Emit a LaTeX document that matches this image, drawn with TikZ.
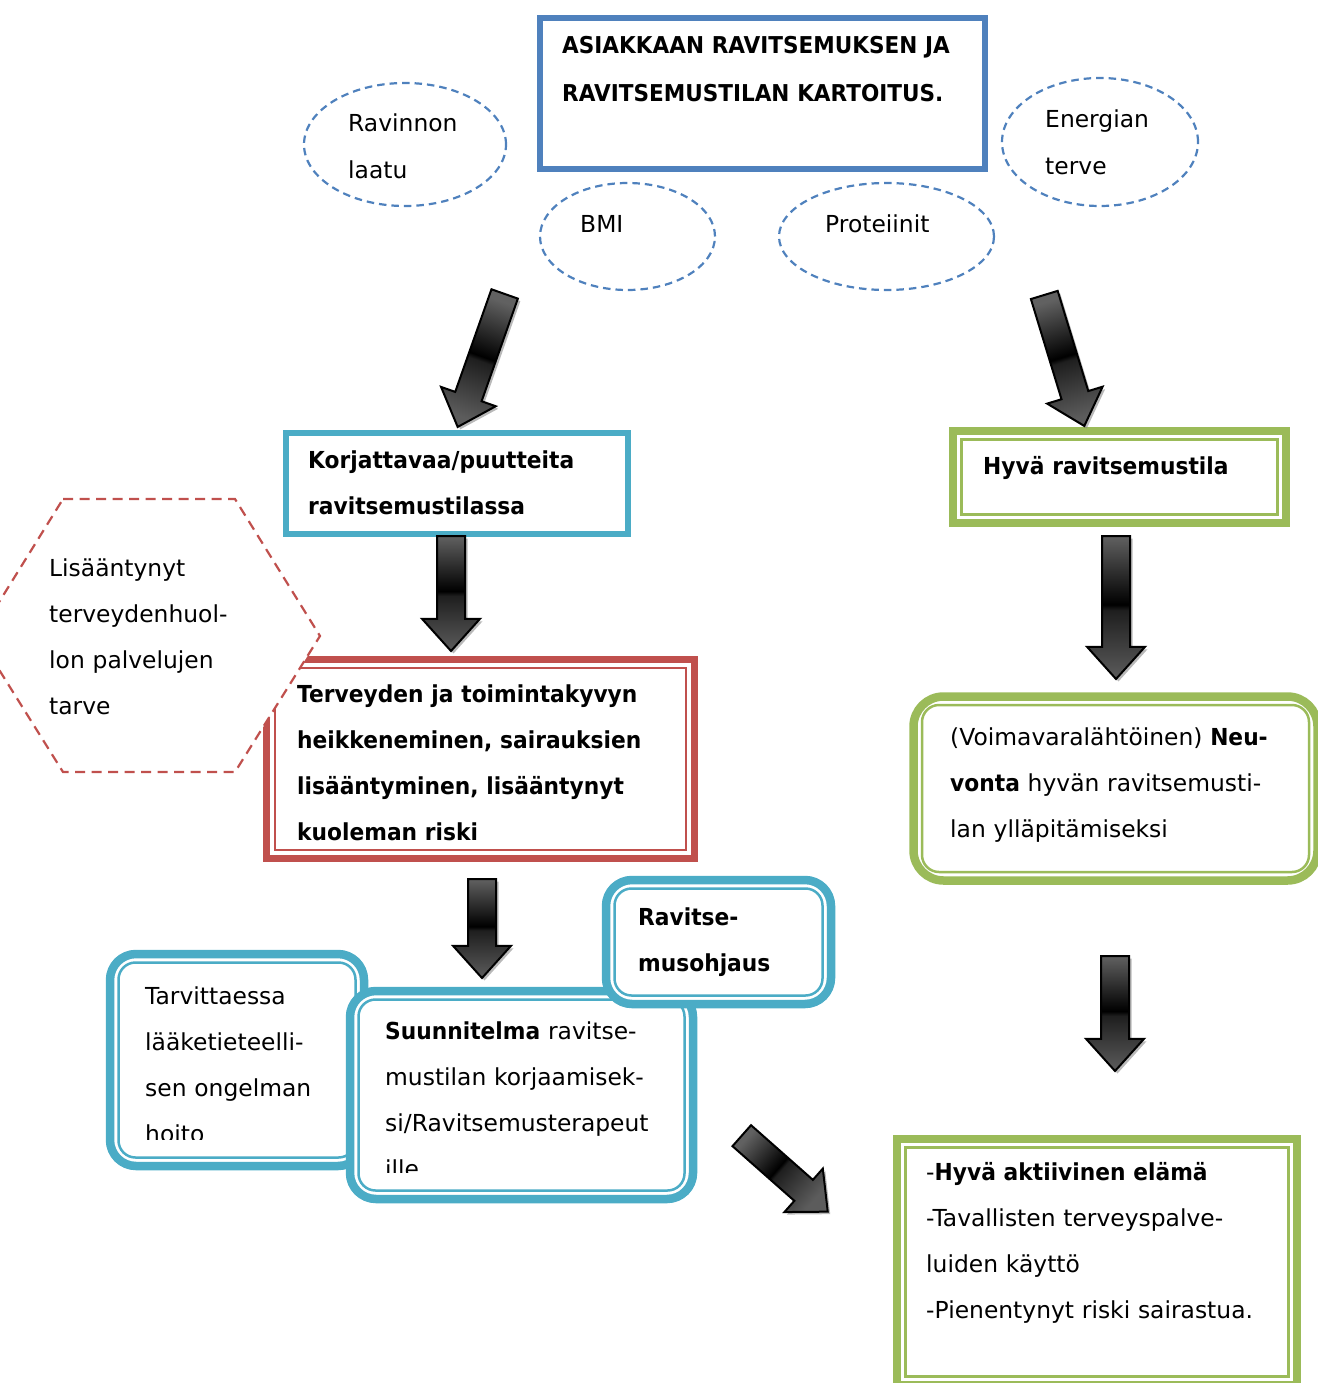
\documentclass[tikz,border=0pt]{standalone}
\usepackage{fontspec}
\setmainfont{DejaVu Sans}[BoldFeatures={FakeStretch=0.93}]
\usetikzlibrary{shapes.geometric,shapes.arrows,shadows,calc}

\definecolor{kblue}{HTML}{4F81BD}
\definecolor{kcyan}{HTML}{4BACC6}
\definecolor{kred}{HTML}{C0504D}
\definecolor{kgreen}{HTML}{9BBB59}
\pgfdeclareverticalshading{metal}{100bp}{color(0bp)=(black!62); color(25bp)=(black!62);
    color(49bp)=(black); color(51bp)=(black!88); color(75bp)=(black!64); color(100bp)=(black!64)}

\begin{document}
\begin{tikzpicture}
    [x=1pt,y=-1pt,
     txt/.style={anchor=base west,inner sep=0pt,text width=400pt,align=left,
                 font=\fontsize{23.4}{46.3}\selectfont},
     btxt/.style={txt,font=\fontsize{23.4}{46.3}\selectfont\bfseries},
     bubble/.style={ellipse,draw=kblue,line width=2.2pt,dash pattern=on 7.5pt off 5pt,inner sep=0pt},
     hexa/.style={draw=kred,fill=white,line width=2.2pt,dash pattern=on 10pt off 6.5pt},
     innerline/.style={path picture={\draw[line width=2.5pt,#1]
         ([shift={(8.5pt,-8.5pt)}]path picture bounding box.north west) rectangle
         ([shift={(-8.5pt,8.5pt)}]path picture bounding box.south east);}},
     sqbox/.style={rectangle,draw=#1,fill=white,line width=6.5pt,inner sep=0pt},
     dblbox/.style={rectangle,draw=#1,fill=white,line width=8pt,inner sep=0pt,innerline=#1},
     rndbox/.style={rectangle,draw=#1,fill=white,line width=8.5pt,rounded corners=26pt,
                    inner sep=0pt,innerline={#1,rounded corners=17pt}},
     blockarrow/.style={single arrow,draw=black,line width=2pt,inner xsep=0pt,inner ysep=13pt,
                        single arrow head extend=15pt,single arrow tip angle=84,
                        shade,shading=metal,
                        drop shadow={opacity=.55,shadow xshift=2.5pt,shadow yshift=-2.5pt}}]
    \useasboundingbox (0,0) rectangle (1317,1383);

    % Kartoitus
    \node[sqbox=kblue,minimum width=445pt,minimum height=151pt] (n0) at (762.5,93.5) {};
    \node[btxt,font=\fontsize{23.2}{48}\selectfont\bfseries] (n0-txt) at (562,53.5)
        {ASIAKKAAN RAVITSEMUKSEN JA\\RAVITSEMUSTILAN KARTOITUS.};

    \node[bubble,minimum width=202pt,minimum height=123pt] (e0) at (405,144.5) {};
    \node[txt] (e0-txt) at (348,132) {Ravinnon\\laatu};
    \node[bubble,minimum width=175pt,minimum height=107pt] (e1) at (627.5,236.5) {};
    \node[txt] (e1-txt) at (580,232) {BMI};
    \node[bubble,minimum width=215pt,minimum height=107pt] (e2) at (886.5,236.5) {};
    \node[txt] (e2-txt) at (825,232) {Proteiinit};
    \node[bubble,minimum width=196pt,minimum height=128pt] (e3) at (1100,142) {};
    \node[txt] (e3-txt) at (1045,128) {Energian\\terve};

    % vasen haara
    \node[sqbox=kcyan,minimum width=342pt,minimum height=101pt] (n1-0) at (457,483.5) {};
    \node[btxt] (n1-0-txt) at (308,468) {Korjattavaa/puutteita\\ravitsemustilassa};

    \node[dblbox=kred,line width=7pt,minimum width=428pt,minimum height=199pt] (n2-0) at (480.5,759) {};
    \begin{scope}
        \clip (n2-0.north west) rectangle ([yshift=21.5pt]n2-0.south east);
        \node[btxt] (n2-0-txt) at (297,702)
            {Terveyden ja toimintakyvyn\\heikkeneminen, sairauksien\\lisääntyminen, lisääntynyt\\kuoleman riski};
    \end{scope}

    \coordinate (h0) at (63,499);
    \coordinate (h1) at (235,499);
    \coordinate (h2) at (320,636);
    \coordinate (h3) at (235,772);
    \coordinate (h4) at (63,772);
    \coordinate (h5) at (-22,636);
    \draw[hexa] (h0) -- (h1) -- (h2) -- (h3) -- (h4) -- (h5) -- cycle;
    \node[txt] (h-txt) at (49,576) {Lisääntynyt\\terveydenhuol-\\lon palvelujen\\tarve};

    \node[rndbox=kcyan,minimum width=254pt,minimum height=212pt] (n3-0) at (237,1060) {};
    \begin{scope}
        \clip (n3-0.north west) rectangle ([yshift=31pt]n3-0.south east);
        \node[txt] (n3-0-txt) at (145,1004) {Tarvittaessa\\lääketieteelli-\\sen ongelman\\hoito};
    \end{scope}

    \node[rndbox=kcyan,minimum width=343pt,minimum height=208pt] (n3-1) at (521.5,1095) {};
    \begin{scope}
        \clip (n3-1.north west) rectangle ([yshift=31pt]n3-1.south east);
        \node[txt] (n3-1-txt) at (385,1039)
            {\textbf{Suunnitelma} ravitse-\\mustilan korjaamisek-\\si/Ravitsemusterapeut\\ille};
    \end{scope}

    \node[rndbox=kcyan,minimum width=225pt,minimum height=124pt] (n3-2) at (718.5,942) {};
    \node[btxt] (n3-2-txt) at (638,925) {Ravitse-\\musohjaus};

    % oikea haara
    \node[dblbox=kgreen,minimum width=333pt,minimum height=92pt] (n1-1) at (1119.5,477) {};
    \node[btxt] (n1-1-txt) at (983,474) {Hyvä ravitsemustila};

    \node[rndbox=kgreen,rounded corners=30pt,minimum width=404pt,minimum height=184pt] (n2-1) at (1115.5,788.5) {};
    \node[txt] (n2-1-txt) at (950,745)
        {(Voimavaralähtöinen) \textbf{Neu-}\\\textbf{vonta} hyvän ravitsemusti-\\lan ylläpitämiseksi};

    \node[dblbox=kgreen,line width=7.5pt,minimum width=400pt,minimum height=246pt] (n4) at (1097,1262) {};
    \node[txt] (n4-txt) at (926,1180)
        {-\textbf{Hyvä aktiivinen elämä}\\-Tavallisten terveyspalve-\\luiden käyttö\\-Pienentynyt riski sairastua.};

    % nuolet
    \coordinate (s0) at (505,293);   \coordinate (t0) at (458,426);
    \coordinate (s1) at (1044,294);  \coordinate (t1) at (1084,425);
    \coordinate (s2) at (451,535);   \coordinate (t2) at (451,650);
    \coordinate (s3) at (1116,535);  \coordinate (t3) at (1116,678);
    \coordinate (s4) at (482,878);   \coordinate (t4) at (482,977);
    \coordinate (s5) at (1115,955);  \coordinate (t5) at (1115,1070);
    \coordinate (s6) at (741,1135);  \coordinate (t6) at (827,1211);

    \foreach \from/\to in {s0/t0, s1/t1, s2/t2, s3/t3, s4/t4, s5/t5, s6/t6}
    \path let \p1=($(\to)-(\from)$), \n1={atan2(\y1,\x1)}, \n2={veclen(\x1,\y1)}, \n3={\n1-90} in
        node[blockarrow,rotate=\n1,shading angle=\n3,minimum height=\n2,anchor=tail] (arr-\from) at (\from) {};
\end{tikzpicture}
\end{document}
